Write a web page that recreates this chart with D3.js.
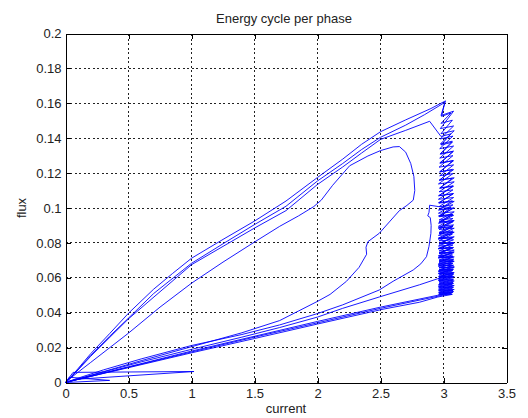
<!DOCTYPE html>
<html>
<head>
<meta charset="utf-8">
<script src="https://cdn.jsdelivr.net/npm/d3@7"></script>
<style>
  body { margin: 0; background: #fff; }
  text { font-family: Arial, "Liberation Sans", sans-serif; fill: #222; }
</style>
</head>
<body>
<svg id="chart" width="528" height="418"></svg>
<script>
// Axis ticks
const xTicks = [0, 0.5, 1, 1.5, 2, 2.5, 3, 3.5];
const xTickLabels = ["0", "0.5", "1", "1.5", "2", "2.5", "3", "3.5"];
const yTicks = [0, 0.02, 0.04, 0.06, 0.08, 0.1, 0.12, 0.14, 0.16, 0.18, 0.2];
const yTickLabels = ["0", "0.02", "0.04", "0.06", "0.08", "0.1", "0.12", "0.14", "0.16", "0.18", "0.2"];

// Flux-linkage trajectory pieces, each point is [current, flux]
const startSpike = [[0,0],[0.06,0.0058],[1.02,0.0063],[0.08,0.0018],[0,0],[0.35,0.0012],[0.03,0.003],[0,0]];

// Magnetising ramps from the origin up to the chopping band
const riseA = [[0,0],[0.05,0.001],[0.5,0.0085],[1.0,0.017],[1.5,0.0252],[2.0,0.0335],[2.52,0.042],[2.81,0.046],[2.955,0.049]];
const riseB = [[0,0],[0.5,0.0088],[1.0,0.0175],[1.5,0.026],[2.0,0.0342],[2.5,0.0425],[2.96,0.0495]];
const riseC = [[0,0],[0.05,0.001],[0.3,0.006],[0.6,0.0118],[1.0,0.019],[1.4,0.026],[1.7,0.0315],[2.0,0.0375],[2.2,0.0425],[2.49,0.049],[2.81,0.056],[2.955,0.0595]];
const riseD = [[0,0],[0.5,0.009],[1.0,0.018],[1.5,0.0265],[2.0,0.035],[2.5,0.0432],[2.955,0.050]];

// Hysteresis current chopping around 3 A
const chopA = [[2.955,0.049],[3.07,0.0505],[2.96,0.0502],[3.08,0.0521],[2.965,0.0518],[3.07,0.0538],[2.96,0.0535],[3.085,0.0556],[2.96,0.0552],[3.075,0.0573],[2.965,0.057],[3.08,0.0592],[2.96,0.0588],[3.07,0.061],[2.965,0.0606],[3.085,0.063],[2.96,0.0626],[3.075,0.065],[2.965,0.0646],[3.08,0.0672],[2.96,0.0668],[3.075,0.0695],[2.965,0.069],[3.085,0.072],[2.96,0.0715],[3.075,0.0746],[2.965,0.0741],[3.08,0.0774],[2.96,0.0768],[3.075,0.0803],[2.965,0.0797],[3.085,0.0835],[2.96,0.0828],[3.075,0.0868],[2.965,0.086],[3.08,0.0903],[2.96,0.0895],[3.075,0.094],[2.965,0.0931],[3.085,0.0978],[2.96,0.097],[3.075,0.1018],[2.965,0.1008],[3.08,0.106],[2.96,0.105],[3.075,0.1104],[2.965,0.1093],[3.085,0.115],[2.96,0.1138],[3.075,0.1197],[2.97,0.1185],[3.08,0.1247],[2.965,0.1234],[3.075,0.13],[2.97,0.1286],[3.08,0.1355],[2.97,0.134],[3.075,0.1412],[2.975,0.1396],[3.08,0.147],[2.975,0.1455],[3.08,0.1555],[2.98,0.153],[3.016,0.1614]];
const chopB = [[2.96,0.0495],[3.065,0.0512],[2.965,0.0509],[3.075,0.0528],[2.96,0.0526],[3.08,0.0546],[2.965,0.0543],[3.07,0.0563],[2.96,0.056],[3.085,0.0582],[2.965,0.0579],[3.075,0.0601],[2.96,0.0597],[3.08,0.062],[2.965,0.0616],[3.07,0.064],[2.96,0.0636],[3.085,0.0661],[2.965,0.0657],[3.075,0.0683],[2.96,0.0679],[3.08,0.0707],[2.965,0.0702],[3.07,0.0732],[2.96,0.0727],[3.085,0.0759],[2.965,0.0754],[3.075,0.0788],[2.96,0.0782],[3.08,0.0818],[2.965,0.0812],[3.07,0.085],[2.96,0.0843],[3.085,0.0884],[2.965,0.0877],[3.075,0.0921],[2.96,0.0913],[3.08,0.0958],[2.965,0.095],[3.07,0.0997],[2.96,0.0988],[3.085,0.1038],[2.965,0.1028],[3.075,0.1081],[2.96,0.107],[3.08,0.1125],[2.97,0.1113],[3.07,0.1171],[2.965,0.1159],[3.08,0.122],[2.97,0.1207],[3.075,0.1272],[2.97,0.1258],[3.08,0.1326],[2.975,0.1311],[3.07,0.1383],[2.975,0.1367],[3.085,0.1443],[2.98,0.1426],[3.07,0.1503],[2.98,0.1485],[3.06,0.1545],[2.985,0.1525],[3.01,0.1605]];
const chopC = [[2.955,0.0595],[3.07,0.0612],[2.96,0.0608],[3.08,0.0627],[2.965,0.0624],[3.075,0.0644],[2.96,0.064],[3.085,0.0662],[2.965,0.0658],[3.07,0.0681],[2.96,0.0677],[3.08,0.0702],[2.965,0.0697],[3.075,0.0724],[2.96,0.0719],[3.085,0.0748],[2.965,0.0743],[3.07,0.0774],[2.96,0.0768],[3.08,0.0801],[2.965,0.0795],[3.075,0.083],[2.96,0.0823],[3.085,0.0861],[2.965,0.0853],[3.07,0.0893],[2.96,0.0885],[3.08,0.0927],[2.965,0.0918],[3.075,0.0963],[2.96,0.0954],[3.085,0.1001],[2.965,0.0991],[3.07,0.1041],[2.96,0.103],[3.08,0.1083],[2.965,0.1071],[3.075,0.1127],[2.97,0.1115],[3.085,0.1173],[2.97,0.116],[3.07,0.1221],[2.97,0.1207],[3.08,0.1271],[2.975,0.1257],[3.075,0.1323],[2.975,0.1308],[3.07,0.1377],[2.98,0.1361],[3.06,0.1425],[2.98,0.141]];
const chopD = [[2.955,0.050],[3.075,0.0517],[2.96,0.0514],[3.085,0.0533],[2.965,0.053],[3.07,0.055],[2.96,0.0547],[3.08,0.0568],[2.965,0.0565],[3.075,0.0587],[2.96,0.0584],[3.085,0.0607],[2.965,0.0604],[3.07,0.0628],[2.96,0.0624],[3.08,0.0649],[2.965,0.0645],[3.075,0.0671],[2.96,0.0667],[3.085,0.0694],[2.965,0.069],[3.07,0.0719],[2.96,0.0714],[3.08,0.0744],[2.965,0.0739],[3.075,0.0771],[2.96,0.0766],[3.085,0.08],[2.965,0.0794],[3.07,0.083],[2.96,0.0823],[3.08,0.0861],[2.965,0.0854],[3.075,0.0894],[2.96,0.0886],[3.085,0.0928],[2.965,0.092],[3.07,0.0964],[2.97,0.0955],[3.06,0.1003],[2.97,0.1007]];

// Demagnetising branches back to the origin
const fallA = [[3.016,0.1614],[2.9,0.157],[2.7,0.1505],[2.5,0.1437],[2.35,0.1365],[2.2,0.128],[2.0,0.1175],[1.75,0.104],[1.5,0.0925],[1.25,0.082],[1.0,0.0712],[0.85,0.0625],[0.7,0.0535],[0.5,0.0397],[0.35,0.028],[0.2,0.0165],[0.1,0.008],[0.04,0.003],[0,0]];
const fallB = [[3.01,0.1605],[2.85,0.1535],[2.7,0.1475],[2.5,0.1405],[2.35,0.1335],[2.2,0.1255],[2.0,0.1155],[1.75,0.101],[1.5,0.0905],[1.25,0.0795],[1.0,0.0683],[0.7,0.051],[0.5,0.0369],[0.35,0.0265],[0.2,0.0155],[0.05,0.0035],[0,0]];
const fallC = [[2.98,0.141],[2.89,0.1497],[2.7,0.1445],[2.5,0.1393],[2.35,0.1315],[2.2,0.1235],[2.0,0.1135],[1.75,0.0985],[1.5,0.0885],[1.0,0.0675],[0.5,0.0365],[0.2,0.015],[0.02,0.001],[0,0]];
const fallD = [[2.97,0.1007],[2.89,0.1016],[2.885,0.0975],[2.875,0.0955],[2.895,0.0945],[2.902,0.09],[2.9,0.0855],[2.885,0.078],[2.865,0.0721],[2.82,0.068],[2.76,0.0645],[2.6,0.058],[2.49,0.053],[2.2,0.0445],[2.0,0.0395],[1.7,0.033],[1.4,0.0275],[1.0,0.0212],[0.6,0.0135],[0.3,0.0072],[0.1,0.0025],[0,0]];

// Separate inner loop
const innerLoop = [[0,0],[0.03,0.002],[0.2,0.0115],[0.5,0.0283],[0.75,0.0432],[1.0,0.0569],[1.25,0.069],[1.5,0.0805],[1.7,0.0895],[1.85,0.0955],[1.97,0.1008],[2.03,0.1045],[2.12,0.113],[2.255,0.1242],[2.4,0.1298],[2.5,0.1329],[2.6,0.135],[2.65,0.1352],[2.7,0.132],[2.74,0.1255],[2.765,0.118],[2.772,0.11],[2.76,0.1045],[2.71,0.1015],[2.65,0.0985],[2.57,0.092],[2.49,0.0855],[2.4,0.0807],[2.385,0.0775],[2.39,0.0735],[2.33,0.066],[2.23,0.058],[2.1,0.0505],[2.0,0.0465],[1.85,0.041],[1.7,0.0355],[1.4,0.0285],[1.0,0.0205],[0.6,0.0125],[0.3,0.0062],[0.05,0.001],[0,0]];

const traces = [startSpike, riseA, chopA, fallA, riseB, chopB, fallB, riseC, chopC, fallC, riseD, chopD, fallD, innerLoop];

const svg = d3.select("#chart");
const W = 528, H = 418;
const x = d3.scaleLinear().domain([0, 3.5]).range([65.5, 506.5]);
const y = d3.scaleLinear().domain([0, 0.2]).range([382.5, 33.5]);

svg.append("rect").attr("width", W).attr("height", H).attr("fill", "#fff");

// Dotted grid
const grid = svg.append("g").attr("stroke", "#222").attr("stroke-width", 1)
  .attr("stroke-dasharray", "2,2.5").attr("shape-rendering", "crispEdges");
grid.selectAll(".gx").data(xTicks.slice(1, -1)).join("line")
  .attr("x1", d => x(d)).attr("x2", d => x(d))
  .attr("y1", y(0)).attr("y2", y(0.2));
grid.selectAll(".gy").data(yTicks.slice(1, -1)).join("line")
  .attr("x1", x(0)).attr("x2", x(3.5))
  .attr("y1", d => y(d)).attr("y2", d => y(d));

// Curves
const line = d3.line().x(d => x(d[0])).y(d => y(d[1]));
svg.append("g").selectAll("path").data(traces).join("path")
  .attr("d", line)
  .attr("fill", "none")
  .attr("stroke", "#0000ff")
  .attr("stroke-width", 0.9)
  .attr("stroke-linejoin", "round");

// Axes with inward ticks on all four sides
function styleAxis(g) {
  g.selectAll("path.domain").attr("stroke", "#000").attr("shape-rendering", "crispEdges");
  g.selectAll(".tick line").attr("stroke", "#000").attr("shape-rendering", "crispEdges");
  g.selectAll(".tick text").attr("font-size", 13).attr("fill", "#222")
    .attr("font-family", 'Arial, "Liberation Sans", sans-serif');
}
svg.append("g").attr("transform", `translate(0,${y(0)})`)
  .call(d3.axisBottom(x).tickValues(xTicks).tickFormat((d, i) => xTickLabels[i])
    .tickSizeInner(-5).tickSizeOuter(0).tickPadding(6))
  .call(styleAxis);
svg.append("g").attr("transform", `translate(0,${y(0.2)})`)
  .call(d3.axisTop(x).tickValues(xTicks).tickFormat(() => "")
    .tickSizeInner(-5).tickSizeOuter(0))
  .call(styleAxis);
svg.append("g").attr("transform", `translate(${x(0)},0)`)
  .call(d3.axisLeft(y).tickValues(yTicks).tickFormat((d, i) => yTickLabels[i])
    .tickSizeInner(-5).tickSizeOuter(0).tickPadding(4))
  .call(styleAxis);
svg.append("g").attr("transform", `translate(${x(3.5)},0)`)
  .call(d3.axisRight(y).tickValues(yTicks).tickFormat(() => "")
    .tickSizeInner(-5).tickSizeOuter(0))
  .call(styleAxis);

// Labels
svg.append("text").attr("x", 284).attr("y", 23).attr("text-anchor", "middle")
  .attr("font-size", 13).text("Energy cycle per phase");
svg.append("text").attr("x", 286).attr("y", 413).attr("text-anchor", "middle")
  .attr("font-size", 13).text("current");
svg.append("text").attr("transform", `translate(26,${(y(0) + y(0.2)) / 2}) rotate(-90)`)
  .attr("text-anchor", "middle").attr("font-size", 13).text("flux");
</script>
</body>
</html>
